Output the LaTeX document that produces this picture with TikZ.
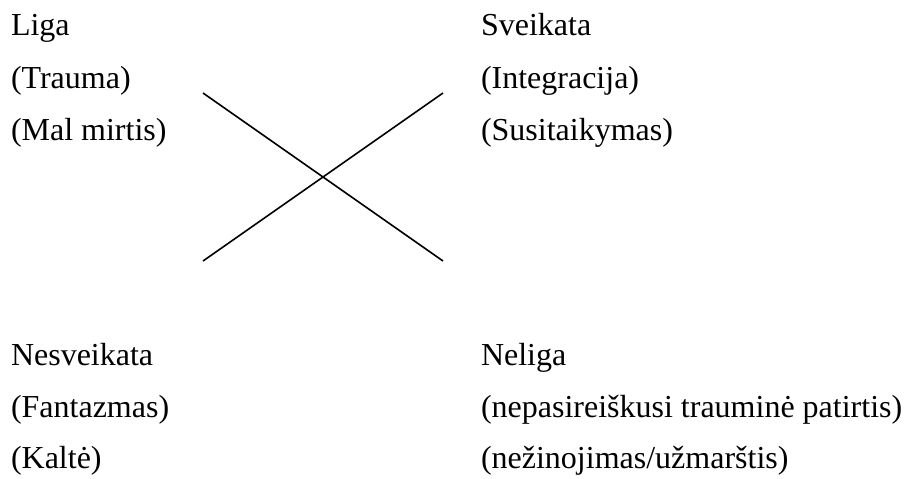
\documentclass[tikz,border=0pt]{standalone}
\usepackage{fontspec}
\setmainfont{Liberation Serif}
\begin{document}
\begin{tikzpicture}[x=1pt,y=-1pt,
  lbl/.style={anchor=base west,inner sep=0pt,outer sep=0pt,font=\fontsize{32}{38}\selectfont},
  cross/.style={line width=1.6pt}]
\useasboundingbox (0,0) rectangle (906,479);
\node[lbl] (liga) at (11,35) {Liga};
\node[lbl] (trauma) at (11,88) {(Trauma)};
\node[lbl] (mal) at (11,140) {(Mal mirtis)};
\node[lbl] (sveik) at (481,35) {Sveikata};
\node[lbl] (integ) at (481,88) {(Integracija)};
\node[lbl] (susit) at (481,140) {(Susitaikymas)};
\node[lbl] (nesv) at (11,365) {Nesveikata};
\node[lbl] (fant) at (11,417) {(Fantazmas)};
\node[lbl] (kalte) at (11,468) {(Kaltė)};
\node[lbl] (neliga) at (481,365) {Neliga};
\node[lbl] (nepas) at (481,417) {(nepasireiškusi trauminė patirtis)};
\node[lbl] (nezin) at (481,468) {(nežinojimas/užmarštis)};
\coordinate (tl) at (203,93);
\coordinate (br) at (443,261);
\coordinate (bl) at (203,261);
\coordinate (tr) at (443,93);
\draw[cross] (tl) -- (br);
\draw[cross] (bl) -- (tr);
\end{tikzpicture}
\end{document}
